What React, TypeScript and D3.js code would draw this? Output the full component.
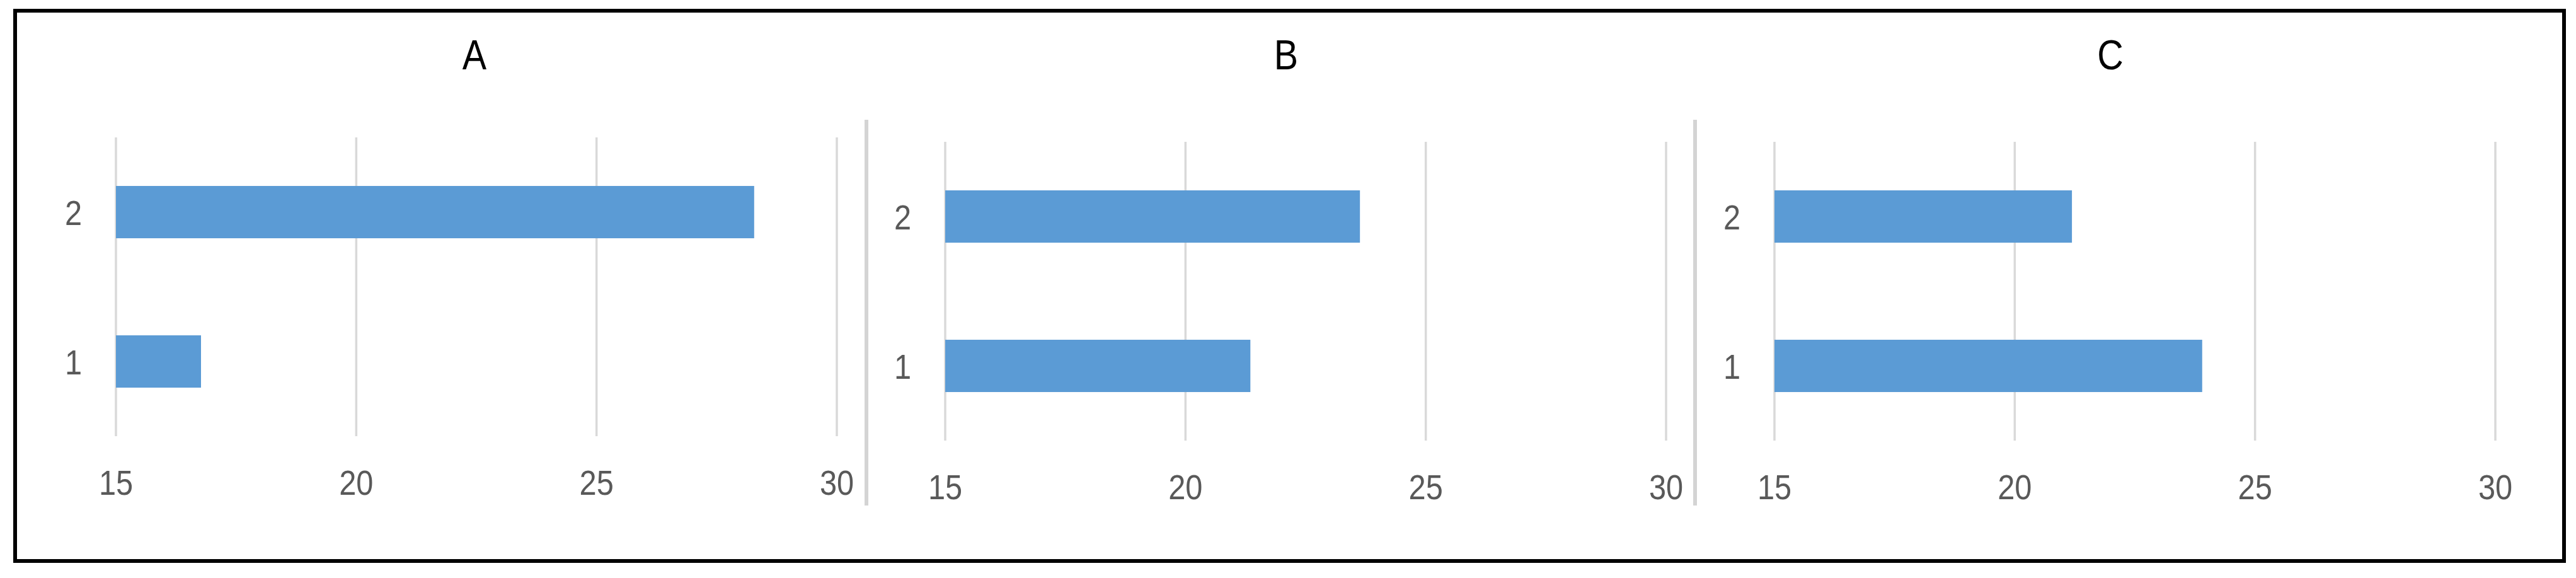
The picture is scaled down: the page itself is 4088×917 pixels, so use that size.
import React from "react";
import * as d3 from "d3";

// ---- data ----
const panelTitles = ["A", "B", "C"];
const categories = ["1", "2"];
const valuesA = [16.77, 28.28];
const valuesB = [21.35, 23.63];
const valuesC = [23.9, 21.19];
const tickValues = [15, 20, 25, 30];
const xDomain = [15, 30];

const seriesByPanel = [valuesA, valuesB, valuesC];

// ---- layout ----
const W = 4088;
const H = 917;
const panelLeft = [184, 1500, 2816];
const panelTop = [218, 225, 225];
const panelTitleX = [753, 2041, 3349];
const plotW = 1144;
const plotH = 474;
const separators = [1375, 2690];
const FONT = "'Liberation Sans', Arial, sans-serif";
const NARROW = 0.87;
const BAR = "#5b9bd5";
const GRID = "#d9d9d9";
const TEXT = "#595959";

function NText({
  x,
  y,
  anchor,
  size,
  fill,
  dy,
  children,
}: {
  x: number;
  y: number;
  anchor: string;
  size: number;
  fill: string;
  dy?: string;
  children: React.ReactNode;
}) {
  return (
    <text
      transform={`translate(${x},${y}) scale(${NARROW},1)`}
      dy={dy}
      textAnchor={anchor}
      fontFamily={FONT}
      fontSize={size}
      fill={fill}
    >
      {children}
    </text>
  );
}

function Panel({ i }: { i: number }) {
  const x0 = panelLeft[i];
  const y0 = panelTop[i];
  const x = d3.scaleLinear().domain(xDomain).range([x0, x0 + plotW]);
  // categories drawn bottom-to-top: "1" at bottom, "2" at top
  const y = d3
    .scaleBand<string>()
    .domain([...categories].reverse())
    .range([y0, y0 + plotH])
    .paddingInner(0.65)
    .paddingOuter(0.325);
  const vals = seriesByPanel[i];
  return (
    <g>
      <NText x={panelTitleX[i]} y={110} anchor="middle" size={66} fill="#000">
        {panelTitles[i]}
      </NText>
      {tickValues.map((t) => (
        <line
          key={"g" + t}
          x1={x(t)}
          x2={x(t)}
          y1={y0}
          y2={y0 + plotH}
          stroke={GRID}
          strokeWidth={3.5}
        />
      ))}
      {categories.map((c, k) => (
        <rect
          key={"b" + c}
          x={x(xDomain[0])}
          y={y(c)!}
          width={x(vals[k]) - x(xDomain[0])}
          height={y.bandwidth()}
          fill={BAR}
        />
      ))}
      {categories.map((c) => (
        <NText
          key={"c" + c}
          x={x(xDomain[0]) - 54}
          y={y(c)! + y.bandwidth() / 2}
          dy="0.36em"
          anchor="end"
          size={56}
          fill={TEXT}
        >
          {c}
        </NText>
      ))}
      {tickValues.map((t) => (
        <NText
          key={"t" + t}
          x={x(t)}
          y={y0 + 567}
          anchor="middle"
          size={56}
          fill={TEXT}
        >
          {t}
        </NText>
      ))}
    </g>
  );
}

export default function App() {
  return (
    <svg
      width={W}
      height={H}
      viewBox={`0 0 ${W} ${H}`}
      style={{ position: "absolute", left: 0, top: 0, background: "#fff" }}
    >
      <rect x={0} y={0} width={W} height={H} fill="#fff" />
      {separators.map((sx) => (
        <line
          key={sx}
          x1={sx}
          x2={sx}
          y1={190}
          y2={802}
          stroke="#d4d4d4"
          strokeWidth={6}
        />
      ))}
      {panelTitles.map((_, i) => (
        <Panel key={i} i={i} />
      ))}
      <rect
        x={24}
        y={17}
        width={4045}
        height={873}
        fill="none"
        stroke="#000"
        strokeWidth={6}
      />
    </svg>
  );
}
